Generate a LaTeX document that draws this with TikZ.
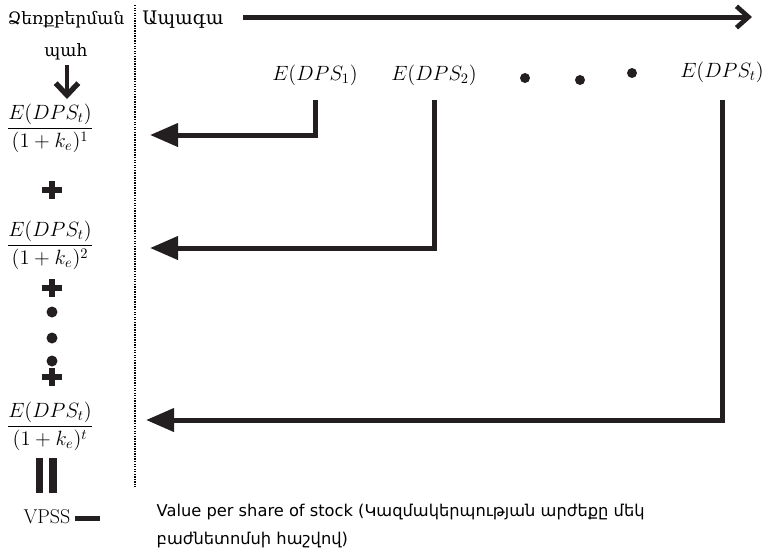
\RequirePackage{fix-cm}
\documentclass[tikz,border=0pt]{standalone}
\usepackage{fontspec}
\usepackage{amsmath}
\newfontfamily\armserif{DejaVu Serif}
\newfontfamily\armsans{DejaVu Sans}
\usetikzlibrary{arrows.meta}
\definecolor{ink}{HTML}{231F20}

\tikzset{
  flow/.style={ink, line width=3.75pt, -{Triangle[length=21pt,width=17pt]}},
  timeline/.style={ink, line width=3.75pt, -{Straight Barb[length=9pt,width=16pt,line width=3.5pt]}},
  downarrow/.style={ink, line width=3.5pt, -{Straight Barb[length=9pt,width=17pt,line width=4pt]}},
  dps/.style={font=\fontsize{15.5}{18}\selectfont, inner sep=2pt},
  plussign/.pic={\fill[ink] (-10,-2.7) rectangle (10,2.7); \fill[ink] (-2.7,-9) rectangle (2.7,9);},
}

\begin{document}
\begin{tikzpicture}[x=0.75pt,y=-0.75pt]
        \useasboundingbox (0,0) rectangle (762,558);
        % time axis
        \draw[dash pattern=on 1pt off 0.9pt, line width=1.3pt] (135,5) -- (135,487);
        \node[font=\armserif\fontsize{12.8}{24}\selectfont, align=center] (acq) at (66,36) {Ձեռքբերման\\պահ};
        \node[font=\armserif\fontsize{14}{16}\selectfont] (future) at (183,20) {Ապագա};
        \coordinate (fend) at (752,17);
        \draw[timeline, shorten <=11pt] (future.east |- fend) -- (fend);
        \coordinate (dn) at (67,99);
        \draw[downarrow] (dn |- acq.south) -- (dn);
        % dividends
        \node[dps] (d1) at (315,75) {$E(DPS_1)$};
        \node[dps] (d2) at (434,75) {$E(DPS_2)$};
        \node[dps] (dt) at (722,72) {$E(DPS_t)$};
        \fill[ink] (525,78) circle (5);
        \fill[ink] (580,80) circle (5);
        \fill[ink] (632,73) circle (5);
        % present values
        \node[dps] (f1) at (50,128) {$\dfrac{E(DPS_t)}{(1+k_e)^1}$};
        \node[dps] (f2) at (50,245) {$\dfrac{E(DPS_t)}{(1+k_e)^2}$};
        \node[dps] (ft) at (50,426) {$\dfrac{E(DPS_t)}{(1+k_e)^t}$};
        \pic at (52,190) {plussign};
        \pic at (52,288) {plussign};
        \fill[ink] (52,312) circle (5.5);
        \fill[ink] (52,338) circle (5.5);
        \fill[ink] (52,361) circle (5.5);
        \pic at (52,377) {plussign};
        \coordinate (e1) at (150,135);
        \coordinate (e2) at (150,248);
        \coordinate (et) at (146,420);
        \draw[flow, shorten <=9pt] (d1.south) |- (e1);
        \draw[flow, shorten <=9pt] (d2.south) |- (e2);
        \draw[flow, shorten <=11pt] (dt.south) |- (et);
        % result
        \fill[ink] (36,458) rectangle (43,493);
        \fill[ink] (49,458) rectangle (57,493);
        \node[font=\fontsize{15}{17}\selectfont] (vpss) at (47,517) {VPSS};
        \fill[ink] (75,515.5) rectangle (100,520.5);
        \node[font=\armsans\fontsize{12.2}{20.5}\selectfont, align=left, anchor=west] (note) at (152,526) {Value per share of stock (Կազմակերպության արժեքը մեկ\\բաժնետոմսի հաշվով)};
    \end{tikzpicture}
\end{document}
